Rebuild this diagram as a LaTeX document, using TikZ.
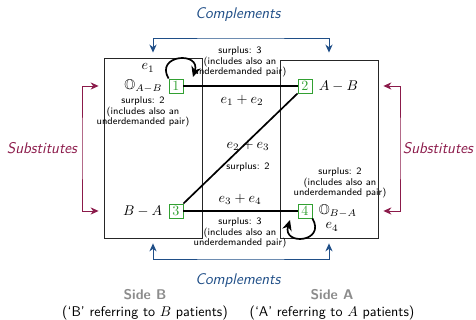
\documentclass[tikz,border=0pt]{standalone}
\usepackage{amsmath}
\usepackage{amssymb}
\usepackage{xcolor}
\usepackage{tikz}
\usetikzlibrary{arrows.meta,positioning,calc}
\definecolor{compblue}{RGB}{31,78,135}
\definecolor{subsred}{RGB}{139,26,74}
\definecolor{ndgreen}{RGB}{50,160,50}
\definecolor{sidegray}{RGB}{140,140,140}

\begin{document}
\begin{tikzpicture}[x=0.025cm,y=0.025cm,>={Stealth[length=2mm,width=1.8mm]},
   nd/.style={rectangle,draw=ndgreen,text=ndgreen,semithick,minimum size=3.5mm,inner sep=0pt},
   sidebox/.style={rectangle,draw=black!85,semithick,inner sep=0pt},
   pr/.style={line width=1.2pt},
   loopar/.style={line width=1.2pt,-{Stealth[length=2.6mm,width=2.4mm]}},
   surp/.style={font=\sffamily\fontsize{7}{7.6}\selectfont,align=center},
   compl/.style={compblue,semithick,<->},
   subs/.style={subsred,semithick,<->},
   brlab/.style={font=\sffamily\itshape\fontsize{11}{13}\selectfont},
   sidelab/.style={font=\sffamily,align=center}]
  \useasboundingbox (0,0) rectangle (476,320);
  \node[sidebox,minimum width=2.45cm,minimum height=4.5cm] (sideB) at (153,172) {};
  \node[sidebox,minimum width=2.45cm,minimum height=4.45cm] (sideA) at (329,171) {};
  \node[nd] (n1) at (176,234) {1};
  \node[nd] (n2) at (305,234) {2};
  \node[nd] (n3) at (176,109) {3};
  \node[nd] (n4) at (305,109) {4};
  \node[left=1pt of n1] (o1) {$\mathbb{O}_{A-B}$};
  \node[right=1pt of n2] (ab) {$A-B$};
  \node[left=1pt of n3] (ba) {$B-A$};
  \node[right=1pt of n4] (o4) {$\mathbb{O}_{B-A}$};
  \draw[pr] (n1) -- (n2);
  \draw[pr] (n2.south west) -- (n3.north east);
  \draw[pr] (n3) -- (n4);
  \coordinate (l1) at (193,243);
  \coordinate (l4) at (290,100);
  \draw[loopar] (n1.north west) .. controls +(-14,24) and +(8,26) .. (l1);
  \draw[loopar] (n4.south east) .. controls +(14,-24) and +(-8,-26) .. (l4);
  \node (e1) at (148,252) {$e_1$};
  \node (e4) at (332,93) {$e_4$};
  \node (e12) at (242,220) {$e_1+e_2$};
  \node (e23) at (248,175) {$e_2+e_3$};
  \node (e34) at (240,121) {$e_3+e_4$};
  \node[surp] (s12) at (240,258) {surplus: 3\\(includes also an\\underdemanded pair)};
  \node[surp] (s23) at (248,153) {surplus: 2};
  \node[surp] (s34) at (240,87) {surplus: 3\\(includes also an\\underdemanded pair)};
  \node[surp] (s1) at (143,208) {surplus: 2\\(includes also an\\underdemanded pair)};
  \node[surp] (s4) at (340,137) {surplus: 2\\(includes also an\\underdemanded pair)};
  \node[brlab,text=compblue] (ctop) at (238,305) {Complements};
  \node[brlab,text=compblue] (cbot) at (238,39) {Complements};
  \coordinate (ct) at (240,282);
  \coordinate (cb) at (240,61);
  \draw[compl] ([yshift=1.25mm]sideB.north) |- (ct) -| ([yshift=1.75mm]sideA.north);
  \draw[compl] ([yshift=-1.25mm]sideB.south) |- (cb) -| ([yshift=-1.25mm]sideA.south);
  \node[brlab,text=subsred] (stl) at (42,172) {Substitutes};
  \node[brlab,text=subsred] (str) at (438,172) {Substitutes};
  \coordinate (sl) at (82,172);
  \coordinate (sr) at (400,172);
  \draw[subs] ($(sideB.west |- n1)+(-5,0)$) -| (sl) |- ($(sideB.west |- n3)+(-5,0)$);
  \draw[subs] ($(sideA.east |- n2)+(5,0)$) -| (sr) |- ($(sideA.east |- n4)+(5,0)$);
  \node[sidelab] (sb) at (145,15) {{\bfseries\color{sidegray}Side B}\\(`B' referring to $B$ patients)};
  \node[sidelab] (sa) at (332,15) {{\bfseries\color{sidegray}Side A}\\(`A' referring to $A$ patients)};
\end{tikzpicture}
\end{document}
